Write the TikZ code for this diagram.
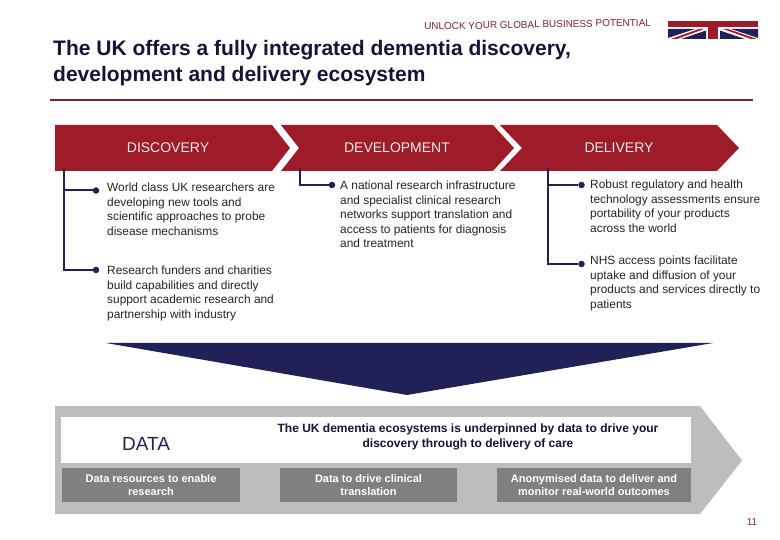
\documentclass[tikz,border=0pt]{standalone}
\usepackage{fontspec}
\setmainfont{Liberation Sans}
\usepackage{tikz}
\usetikzlibrary{arrows.meta,calc,positioning}
\definecolor{ukred}{RGB}{158,27,42}
\definecolor{uknavy}{RGB}{33,33,88}
\definecolor{ukmaroon}{RGB}{125,32,56}
\definecolor{ukgrey}{RGB}{189,189,189}
\definecolor{ukdark}{RGB}{128,128,128}
\definecolor{uktext}{RGB}{35,35,35}

\begin{document}
\begin{tikzpicture}[x=1pt,y=-1pt,font=\fontsize{11.9}{14.4}\selectfont,
      stage/.style={fill=ukred,draw=none},
      stagelabel/.style={text=white!92!black,font=\fontsize{14}{16}\selectfont},
      body/.style={anchor=north west,inner sep=0pt,align=left,text=uktext},
      dot/.style={circle,fill=uknavy,inner sep=0pt,minimum size=6.5pt},
      stem/.style={draw=uknavy,line width=2pt},
      databox/.style={fill=ukdark,text=white,align=center,minimum height=34pt,inner sep=0pt,
        font=\fontsize{11}{13}\selectfont\bfseries}]
      \useasboundingbox (0,0) rectangle (780,540);
      % header
      \node[anchor=west,inner sep=0pt,rotate=1,text=ukmaroon,font=\fontsize{9.95}{11}\selectfont] (strap) at (424,26.5) {UNLOCK YOUR GLOBAL BUSINESS POTENTIAL};
      \node[anchor=north west,inner sep=0pt,align=left,text=uknavy!60!black,font=\fontsize{21}{25.5}\selectfont\bfseries] (title) at (53,40.5) {The UK offers a fully integrated dementia discovery,\\development and delivery ecosystem};
      \coordinate (ruleL) at (50,100); \coordinate (ruleR) at (753,100);
      \draw[ukmaroon,line width=1.5pt] (ruleL)--(ruleR);
      % flag
      \fill[ukred] (668,21) rectangle (758,27);
      \fill[uknavy] (668,29) -- (695,29) -- (668,38) -- cycle;
      \fill[uknavy] (681,39) -- (706,30.5) -- (706,39) -- cycle;
      \fill[uknavy] (720,30.5) -- (745,39) -- (720,39) -- cycle;
      \fill[uknavy] (731,29) -- (758,29) -- (758,38) -- cycle;
      \fill[ukred] (671,39) -- (699,29) -- (704,29) -- (677,39) -- cycle;
      \fill[ukred] (723,29) -- (728,29) -- (757,39) -- (751,39) -- cycle;
      \fill[ukred] (708,27) rectangle (718,39);
      % stages
      \fill[stage] (55,125) -- (272,125) -- (290,148) -- (272,171) -- (55,171) -- cycle;
      \fill[stage] (281,125) -- (493,125) -- (514,148) -- (493,171) -- (281,171) -- (299,148) -- cycle;
      \fill[stage] (500,125) -- (717,125) -- (739,148) -- (717,171) -- (500,171) -- (522,148) -- cycle;
      \node[stagelabel] (discovery) at (168,148) {DISCOVERY};
      \node[stagelabel] (development) at (397,148) {DEVELOPMENT};
      \node[stagelabel] (delivery) at (619,148) {DELIVERY};
      % bullet text
      \node[body] (disA) at (107,183) {World class UK researchers are\\developing new tools and\\scientific approaches to probe\\disease mechanisms};
      \node[body] (disB) at (107,266) {Research funders and charities\\build capabilities and directly\\support academic research and\\partnership with industry};
      \node[body] (devA) at (340,181) {A national research infrastructure\\and specialist clinical research\\networks support translation and\\access to patients for diagnosis\\and treatment};
      \node[body] (delA) at (590,180) {Robust regulatory and health\\technology assessments ensure\\portability of your products\\across the world};
      \node[body] (delB) at (590,256) {NHS access points facilitate\\uptake and diffusion of your\\products and services directly to\\patients};
      % connectors
      \coordinate (disRoot) at (64,168); \coordinate (devRoot) at (299.5,168); \coordinate (delRoot) at (548,168);
      \node[dot] (disDotA) at (96,190.5) {};
      \node[dot] (disDotB) at (96,270) {};
      \node[dot] (devDotA) at (332,185) {};
      \node[dot] (delDotA) at (581.5,185) {};
      \node[dot] (delDotB) at (581.5,264) {};
      \draw[stem] (disRoot) |- (disDotA);
      \draw[stem] (disRoot) |- (disDotB);
      \draw[stem] (devRoot) |- (devDotA);
      \draw[stem] (delRoot) |- (delDotA);
      \draw[stem] (delRoot) |- (delDotB);
      % funnel
      \fill[uknavy] (106,343) -- (713,343) -- (407,395) -- cycle;
      % data band
      \fill[ukgrey] (55,406) -- (700,406) -- (742,460.5) -- (700,514) -- (55,514) -- cycle;
      \fill[white] (61,417) rectangle (691,463);
      \node[text=uknavy,font=\fontsize{19}{21}\selectfont] (data) at (146,444) {DATA};
      \node[text=uknavy!60!black,align=center,font=\fontsize{12}{14.2}\selectfont\bfseries] (claim) at (468,437) {The UK dementia ecosystems is underpinned by data to drive your\\discovery through to delivery of care};
      \node[databox,minimum width=178pt] (dataA) at (151,485) {Data resources to enable\\research};
      \node[databox,minimum width=177pt] (dataB) at (368.5,485) {Data to drive clinical\\translation};
      \node[databox,minimum width=194pt] (dataC) at (594,485) {Anonymised data to deliver and\\monitor real-world outcomes};
      \node[text=ukmaroon,font=\fontsize{10}{12}\selectfont] (page) at (752,522) {11};
    \end{tikzpicture}
\end{document}
